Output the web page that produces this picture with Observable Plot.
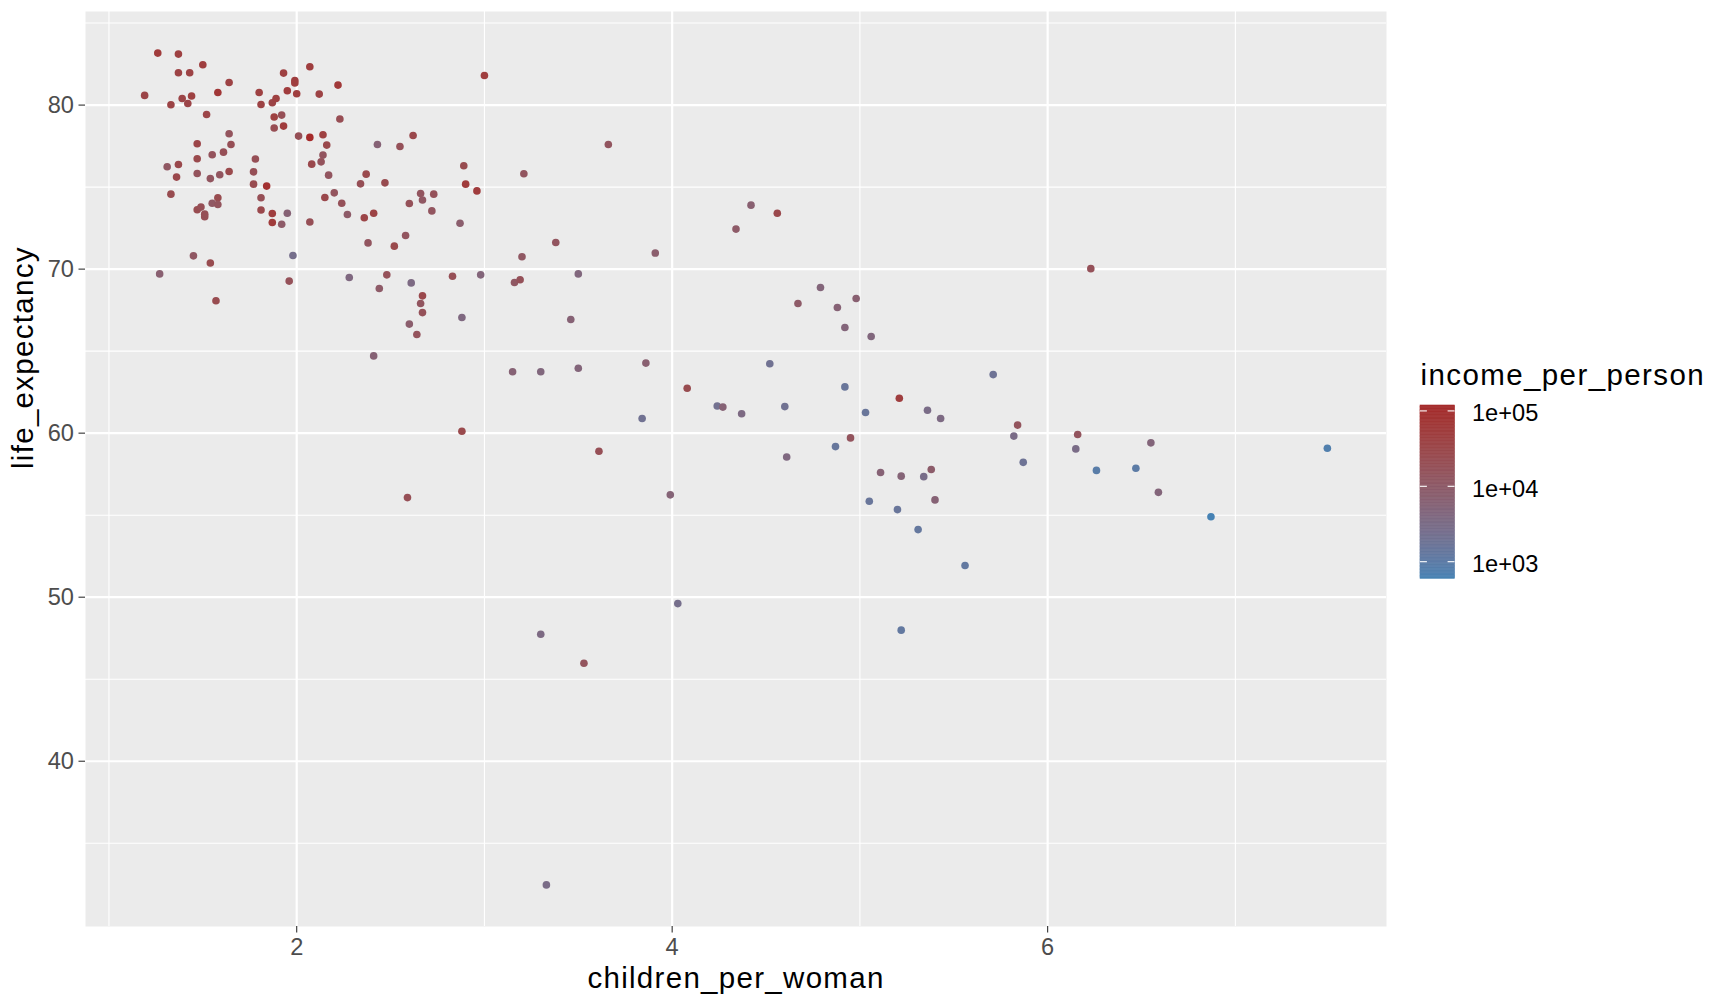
<!DOCTYPE html>
<html>
<head>
<meta charset="utf-8">
<script src="https://cdn.jsdelivr.net/npm/d3@7"></script>
<script src="https://cdn.jsdelivr.net/npm/@observablehq/plot@0.6"></script>
<style>
  html, body { margin: 0; padding: 0; background: white; }
  #fig { position: relative; width: 1728px; height: 1008px; background: white; font-family: "Liberation Sans", Arial, sans-serif; }
  #main { position: absolute; left: 0; top: 0; }
  #legend { position: absolute; left: 1380px; top: 340px; }
</style>
</head>
<body>
<div id="fig"><div id="main"></div><div id="legend"></div></div>
<script>
const children_per_woman = [
  1.26,1.37,1.50,1.37,1.43,1.64,1.19,1.58,1.39,1.44,1.33,1.42,1.52,1.93,1.99,1.99,2.07,1.80,1.95,2.00,
  2.12,2.22,1.81,1.87,1.89,1.88,1.92,1.88,1.93,2.23,3.00,1.64,1.47,1.65,2.01,2.07,2.14,2.16,2.43,2.55,
  2.62,1.55,1.61,1.47,1.78,2.14,2.13,2.08,1.31,1.37,1.36,1.47,1.54,1.59,1.64,1.77,1.77,1.84,2.17,2.37,
  2.34,2.47,2.89,3.21,2.90,2.96,1.33,1.58,1.55,1.58,1.47,1.49,1.51,1.51,1.81,1.81,1.87,1.87,1.95,1.92,
  2.07,2.15,2.20,2.24,2.27,2.36,2.41,2.66,2.67,2.73,2.60,2.72,2.87,2.38,2.52,2.58,3.38,3.20,1.45,1.54,
  1.98,1.27,1.57,1.96,2.28,2.48,2.44,2.61,2.67,2.66,2.67,2.60,2.64,2.88,2.83,2.98,3.16,3.19,3.46,3.50,
  3.66,4.42,4.56,4.34,3.91,4.67,2.41,3.15,3.30,3.50,3.86,4.52,4.08,4.24,4.27,4.37,4.60,3.84,2.88,3.61,
  4.61,3.99,2.59,4.79,4.88,4.98,4.92,5.06,5.71,4.92,5.21,5.03,5.36,5.43,4.87,4.95,5.11,5.22,5.34,5.38,
  5.05,5.20,5.40,5.31,5.56,4.03,3.30,5.22,5.84,5.82,5.87,6.16,6.15,6.55,6.26,6.47,6.59,6.87,7.49,6.23,
  3.33,3.53
];
const life_expectancy = [
  83.17,83.11,82.46,81.97,81.97,81.38,80.59,80.77,80.40,80.55,80.02,80.10,79.43,81.95,81.50,81.35,82.34,80.77,80.87,80.69,
  80.67,81.22,80.04,80.14,80.40,79.27,79.39,78.60,78.72,79.15,81.80,78.25,77.64,77.60,78.11,78.03,78.19,77.56,77.60,77.48,
  78.15,76.97,77.13,76.73,76.71,76.95,76.54,76.40,76.24,76.38,75.61,75.83,75.52,75.75,75.95,75.93,75.18,75.06,75.73,75.79,
  75.20,75.26,76.30,75.81,75.18,74.77,74.57,74.35,74.02,73.94,73.62,73.78,73.19,73.35,74.35,73.60,73.39,72.84,73.41,72.74,
  72.87,74.37,74.65,74.02,73.33,73.13,73.41,74.61,74.21,74.57,74.00,73.55,72.80,71.60,71.40,72.05,71.62,70.75,70.81,70.37,
  70.83,69.71,68.07,69.27,69.49,69.65,68.82,69.16,68.37,67.90,67.35,66.65,66.01,67.05,69.57,69.65,69.18,69.35,66.93,69.71,
  77.60,73.90,73.41,72.44,70.98,67.90,64.71,63.74,63.74,63.96,64.27,64.23,62.74,61.66,61.59,61.18,61.62,60.89,60.12,58.90,
  58.55,56.24,56.07,68.88,67.66,68.21,66.44,65.89,63.57,62.82,62.13,61.26,61.40,60.89,59.18,59.71,57.60,57.38,57.35,57.78,
  55.85,55.34,55.93,54.12,51.93,49.61,47.74,47.99,60.49,59.82,58.22,59.92,59.04,59.41,57.73,57.86,56.39,54.90,59.08,70.03,
  32.46,45.97
];
const income_per_person = [
  60000,45000,50000,40000,40000,40000,35000,70000,35000,45000,38000,35000,35000,45000,50000,50000,50000,45000,55000,50000,
  40000,65000,40000,38000,45000,45000,20000,22000,55000,22000,50000,15000,35000,20000,20000,118000,45000,30000,6000,18000,
  30000,16000,20000,28000,20000,14000,16000,30000,12000,30000,30000,16000,14000,14000,28000,20000,25000,90000,14000,28000,
  20000,25000,25000,14000,60000,55000,25000,25000,12000,15000,25000,20000,20000,20000,20000,30000,50000,60000,6000,10000,
  20000,30000,15000,18000,10000,35000,40000,14000,12000,18000,18000,14000,8000,14000,28000,14000,14000,12000,12000,25000,
  2500,7000,25000,18000,4000,18000,10000,3500,30000,14000,18000,8000,16000,4000,20000,5000,12000,18000,6000,4500,
  14000,7000,30000,10000,8000,10000,6000,6000,4500,5000,7000,2000,25000,2200,6000,3500,2000,2000,28000,20000,
  4000,5500,20000,5000,6000,7000,5000,4500,1800,1500,50000,1500,3000,3500,1400,15000,6000,5500,2800,9000,
  1500,1500,6000,1300,1200,2500,3500,1200,15000,3000,1800,15000,3000,5000,900,1000,5000,593,750,18000,
  3000,15000
];
const xMajor = [2, 4, 6];
const xMinor = [1, 3, 5, 7];
const yMajor = [40, 50, 60, 70, 80];
const yMinor = [35, 45, 55, 65, 75, 85];
const legendBreaks = [1e3, 1e4, 1e5];
const xTitle = "children_per_woman";
const yTitle = "life_expectancy";
const colorTitle = "income_per_person";

const data = children_per_woman.map((c, i) => ({
  children_per_woman: c,
  life_expectancy: life_expectancy[i],
  income_per_person: income_per_person[i]
}));

function expand(ext, f = 0.05) {
  const d = (ext[1] - ext[0]) * f;
  return [ext[0] - d, ext[1] + d];
}
const xDomain = expand(d3.extent(children_per_woman));
const yDomain = expand(d3.extent(life_expectancy));
const cDomain = d3.extent(income_per_person);

const colorScale = {type: "log", domain: cDomain, range: ["steelblue", "brown"], interpolate: "lab"};
const FONT = "'Liberation Sans', Arial, sans-serif";
const intFmt = d => String(Math.round(d));

const main = Plot.plot({
  width: 1728,
  height: 1008,
  marginLeft: 85,
  marginRight: 342,
  marginTop: 11,
  marginBottom: 82,
  style: {fontFamily: FONT, background: "white", overflow: "visible"},
  x: {domain: xDomain},
  y: {domain: yDomain},
  color: colorScale,
  marks: [
    Plot.frame({fill: "#EBEBEB", stroke: null}),
    Plot.gridX(xMinor, {stroke: "white", strokeOpacity: 1, strokeWidth: 1.1}),
    Plot.gridY(yMinor, {stroke: "white", strokeOpacity: 1, strokeWidth: 1.1}),
    Plot.gridX(xMajor, {stroke: "white", strokeOpacity: 1, strokeWidth: 2.2}),
    Plot.gridY(yMajor, {stroke: "white", strokeOpacity: 1, strokeWidth: 2.2}),
    Plot.axisX(xMajor, {tickSize: 6.5, tickPadding: 5, fontSize: 23.6, color: "#4D4D4D", stroke: "#333333", strokeWidth: 1.1, tickFormat: intFmt, label: null}),
    Plot.axisY(yMajor, {tickSize: 6.5, tickPadding: 5, fontSize: 23.6, color: "#4D4D4D", stroke: "#333333", strokeWidth: 1.1, tickFormat: intFmt, label: null}),
    Plot.dot(data, {x: "children_per_woman", y: "life_expectancy", fill: "income_per_person", r: 3.8, stroke: null}),
    Plot.text([xTitle], {frameAnchor: "bottom", dy: 61, lineAnchor: "bottom", fontSize: 29.5, fill: "black"}),
    Plot.text([yTitle], {frameAnchor: "left", dx: -52.5, rotate: -90, lineAnchor: "bottom", fontSize: 29.5, fill: "black"})
  ]
});
main.querySelectorAll("text").forEach(t => {
  if (t.textContent === xTitle || t.textContent === yTitle) t.style.letterSpacing = "1.3px";
});
document.getElementById("main").appendChild(main);

// legend (colour bar)
const n = 120;
const lo = Math.log10(cDomain[0]), hi = Math.log10(cDomain[1]);
const slices = d3.range(n).map(i => ({
  y1: 10 ** (lo + (hi - lo) * i / n),
  y2: 10 ** (lo + (hi - lo) * (i + 1) / n),
  v: 10 ** (lo + (hi - lo) * (i + 0.5) / n)
}));
const fmt = t => "1e+" + String(Math.round(Math.log10(t))).padStart(2, "0");

const legend = Plot.plot({
  width: 220,
  height: 260,
  marginLeft: 40,
  marginRight: 220 - 40 - 34.5,
  marginTop: 65,
  marginBottom: 260 - (578.3 - 340),
  style: {fontFamily: FONT, background: "transparent", overflow: "visible"},
  x: {domain: [0, 1], axis: null},
  y: {type: "log", domain: cDomain},
  color: colorScale,
  marks: [
    Plot.rect(slices, {x1: 0, x2: 1, y1: "y1", y2: "y2", fill: "v", stroke: "v", strokeWidth: 0.6}),
    Plot.ruleY(legendBreaks, {x1: 0, x2: 0.2, stroke: "white", strokeWidth: 1.1}),
    Plot.ruleY(legendBreaks, {x1: 0.8, x2: 1, stroke: "white", strokeWidth: 1.1}),
    Plot.axisY(legendBreaks, {anchor: "right", tickSize: 0, tickPadding: 17, fontSize: 23.6, color: "black", tickFormat: fmt, label: null, dy: 3}),
    Plot.text([colorTitle], {frameAnchor: "top-left", dy: -21, lineAnchor: "bottom", textAnchor: "start", fontSize: 29.5, fill: "black"})
  ]
});
legend.querySelectorAll("text").forEach(t => {
  if (t.textContent === colorTitle) t.style.letterSpacing = "1.4px";
});
document.getElementById("legend").appendChild(legend);
</script>
</body>
</html>
